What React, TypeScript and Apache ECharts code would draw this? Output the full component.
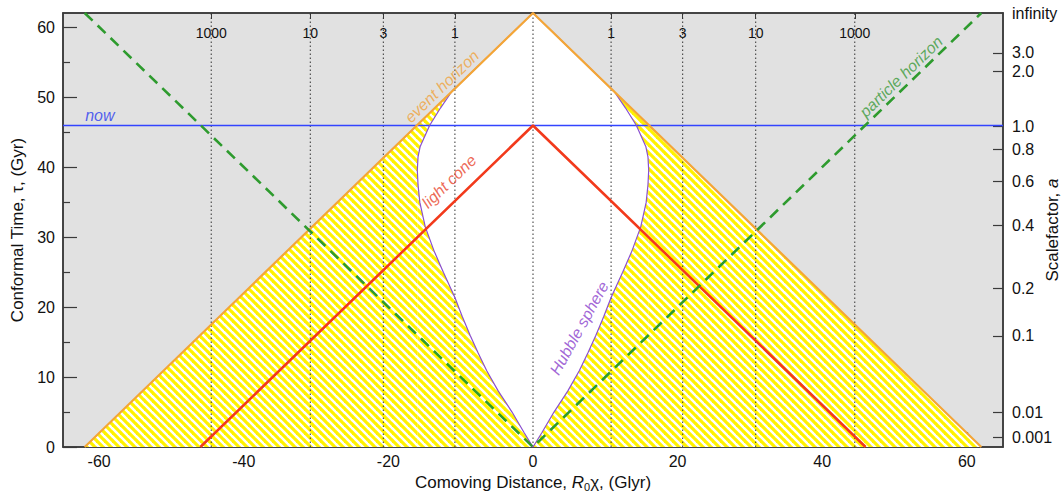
import { useEffect, useRef } from 'react';
import * as echarts from 'echarts';

// ---- data ----
const distMajor = [-60, -40, -20, 0, 20, 40, 60];
const distMinor = [-50, -30, -10, 10, 30, 50];
const tauMajor = [0, 10, 20, 30, 40, 50, 60];
const tauMinor = [5, 15, 25, 35, 45, 55];
const redshiftLabels = ['1000', '10', '3', '1', '0', '1', '3', '10', '1000'];
const redshiftPos = [-44.5, -30.8, -20.7, -10.8, 0, 10.8, 20.7, 30.8, 44.5];
const scaleLabels = ['0.001', '0.01', '0.1', '0.2', '0.4', '0.6', '0.8', '1.0', '2.0', '3.0', 'infinity'];
const scaleTau = [1.33, 5.0, 15.9, 22.7, 31.7, 38.0, 42.6, 45.9, 53.7, 56.4, 62.1];

const eventHorizon = [[-62, 0], [0, 62.1], [62, 0]];
const lightCone = [[-46, 0], [0, 46], [46, 0]];
const particleHorizon = [[-62, 62.1], [0, 0], [62, 62.1]];
const nowTau = 46;
// Hubble sphere (right half; left half mirrored)
const hubbleTau = [0, 2, 5, 8, 10.9, 13.5, 16, 18.7, 21.4, 25, 28.1, 31.5, 35, 37.5, 39.6, 41.5, 43, 46, 48.5, 50.9, 62.1];
const hubbleDist = [0, 1.2, 2.9, 4.8, 6.4, 7.6, 8.7, 9.8, 10.8, 12.4, 13.7, 14.9, 15.65, 15.9, 16.0, 15.9, 15.6, 14.3, 12.8, 11.2, 0];
const hubbleWidest = 14;

const textLabels = [
  { text: 'now', x: -59.9, t: 47.5, rot: 0, color: '#2b3cf0' },
  { text: 'event horizon', x: -12.6, t: 51.6, rot: 44, color: '#f0a23c' },
  { text: 'light cone', x: -11.6, t: 38.0, rot: 44, color: '#e8432a' },
  { text: 'Hubble sphere', x: 6.4, t: 17.0, rot: 61, color: '#8a3fcc' },
  { text: 'particle horizon', x: 50.9, t: 53.0, rot: 44, color: '#3a9a3a' },
];

const FONT = '"Liberation Sans", Arial, Helvetica, sans-serif';
const X_MIN = -65;
const X_MAX = 65;
const Y_MAX = 62.1;
const HATCH = 8;

function makeHatch(): HTMLCanvasElement {
  const s = HATCH;
  const c = document.createElement('canvas');
  c.width = s;
  c.height = s;
  const ctx = c.getContext('2d')!;
  ctx.fillStyle = '#ffffff';
  ctx.fillRect(0, 0, s, s);
  ctx.strokeStyle = '#fff200';
  ctx.lineWidth = 3.2;
  for (const k of [-1, 0, 1]) {
    ctx.beginPath();
    ctx.moveTo(k * s - 1, -1);
    ctx.lineTo(k * s + s + 1, s + 1);
    ctx.stroke();
  }
  return c;
}

export default function App() {
  const ref = useRef<HTMLDivElement>(null);
  useEffect(() => {
    if (!ref.current) return;
    const chart = echarts.init(ref.current, undefined, { renderer: 'svg' });
    const hatchCanvas = makeHatch();
    const hatch: any = { image: hatchCanvas, repeat: 'repeat', imageWidth: HATCH, imageHeight: HATCH };

    const n = hubbleTau.length;
    const outline: number[][] = [];
    for (let i = n - 1; i >= 0; i--) outline.push([-hubbleDist[i], hubbleTau[i]]);
    for (let i = 1; i < n; i++) outline.push([hubbleDist[i], hubbleTau[i]]);
    const upper: number[][] = [];
    for (let i = hubbleWidest; i < n; i++) upper.push([-hubbleDist[i], hubbleTau[i]]);
    for (let i = n - 2; i >= hubbleWidest; i--) upper.push([hubbleDist[i], hubbleTau[i]]);
    const lower: number[][] = [];
    for (let i = hubbleWidest; i >= 0; i--) lower.push([-hubbleDist[i], hubbleTau[i]]);
    for (let i = 1; i <= hubbleWidest; i++) lower.push([hubbleDist[i], hubbleTau[i]]);

    const base = { type: 'line', showSymbol: false, symbol: 'none', silent: true, xAxisIndex: 0, yAxisIndex: 0 };

    const dotted = redshiftPos.map((p) => ({
      ...base,
      data: [[p, 0], [p, Y_MAX]],
      lineStyle: { color: '#333', width: 1, type: [1.5, 2.5] },
    }));

    const axisLineStyle = { color: '#3a3a3a', width: 1.5 };

    chart.setOption({
      animation: false,
      grid: {
        left: 63, right: 60, top: 13, bottom: 52, containLabel: false, outerBoundsMode: 'none',
        show: true, backgroundColor: '#e1e1e1', borderColor: '#3a3a3a', borderWidth: 1.5,
      },
      xAxis: [
        {
          type: 'value', min: X_MIN, max: X_MAX, position: 'bottom',
          axisLine: { show: true, onZero: false, lineStyle: axisLineStyle },
          axisTick: { show: true, inside: true, length: 15, customValues: distMajor, lineStyle: { color: '#3a3a3a', width: 1.2 } },
          axisLabel: { customValues: distMajor, color: '#111', fontSize: 16, fontFamily: FONT, margin: 6 },
          splitLine: { show: false },
          name: 'Comoving Distance, {i|R}{s|0}χ, (Glyr)',
          nameLocation: 'middle', nameGap: 26, nameMoveOverlap: false,
          nameTextStyle: {
            color: '#111', fontSize: 17, fontFamily: FONT,
            rich: {
              i: { fontStyle: 'italic', fontSize: 17, fontFamily: FONT, color: '#111' },
              s: { fontSize: 11, fontFamily: FONT, color: '#111', verticalAlign: 'bottom', padding: [8, 0, 0, 0] },
            },
          },
        },
        {
          type: 'value', min: X_MIN, max: X_MAX, position: 'bottom',
          axisLine: { show: false, onZero: false },
          axisTick: { show: true, inside: true, length: 8, customValues: distMinor, lineStyle: { color: '#3a3a3a', width: 1.2 } },
          axisLabel: { show: false },
          splitLine: { show: false },
        },
        {
          type: 'value', min: X_MIN, max: X_MAX, position: 'top',
          axisLine: { show: true, onZero: false, lineStyle: axisLineStyle },
          axisTick: { show: true, inside: true, length: 6, customValues: redshiftPos, lineStyle: { color: '#3a3a3a' } },
          axisLabel: {
            inside: true, customValues: redshiftPos, color: '#111', fontSize: 14, fontFamily: FONT, margin: 13,
            formatter: (v: number) => {
              const i = redshiftPos.findIndex((p) => Math.abs(p - v) < 0.01);
              return i >= 0 ? redshiftLabels[i] : '';
            },
          },
          splitLine: { show: false },
        },
      ],
      yAxis: [
        {
          type: 'value', min: 0, max: Y_MAX, position: 'left',
          axisLine: { show: true, onZero: false, lineStyle: axisLineStyle },
          axisTick: { show: true, inside: true, length: 14, customValues: tauMajor, lineStyle: { color: '#3a3a3a', width: 1.2 } },
          axisLabel: { customValues: tauMajor, color: '#111', fontSize: 16, fontFamily: FONT, margin: 8 },
          splitLine: { show: false },
          name: 'Conformal Time, τ, (Gyr)', nameLocation: 'middle', nameGap: 37, nameRotate: 90, nameMoveOverlap: false,
          nameTextStyle: { color: '#111', fontSize: 17, fontFamily: FONT },
        },
        {
          type: 'value', min: 0, max: Y_MAX, position: 'left',
          axisLine: { show: false, onZero: false },
          axisTick: { show: true, inside: true, length: 7, customValues: tauMinor, lineStyle: { color: '#3a3a3a', width: 1.2 } },
          axisLabel: { show: false },
          splitLine: { show: false },
        },
        {
          type: 'value', min: 0, max: Y_MAX, position: 'right',
          axisLine: { show: true, onZero: false, lineStyle: axisLineStyle },
          axisTick: { show: true, inside: true, length: 10, customValues: scaleTau.slice(0, scaleTau.length - 1), lineStyle: { color: '#3a3a3a', width: 1.2 } },
          axisLabel: {
            customValues: scaleTau, color: '#111', fontSize: 16, fontFamily: FONT, margin: 9,
            formatter: (v: number) => {
              const i = scaleTau.findIndex((p) => Math.abs(p - v) < 0.01);
              return i >= 0 ? scaleLabels[i] : '';
            },
          },
          splitLine: { show: false },
          name: 'Scalefactor, {i|a}', nameLocation: 'middle', nameGap: 41, nameRotate: 90, nameMoveOverlap: false,
          nameTextStyle: {
            color: '#111', fontSize: 17, fontFamily: FONT,
            rich: { i: { fontStyle: 'italic', fontSize: 17, fontFamily: FONT, color: '#111' } },
          },
        },
      ],
      series: [
        { ...base, name: 'horizonFill', data: eventHorizon, lineStyle: { width: 0 }, areaStyle: { color: hatch, opacity: 1 } },
        { ...base, name: 'sphereWhite', data: upper, lineStyle: { width: 0 }, areaStyle: { color: '#ffffff', opacity: 1 } },
        { ...base, name: 'sphereLowerHatch', data: lower, lineStyle: { width: 0 }, areaStyle: { color: hatch, opacity: 1 } },
        ...dotted,
        { ...base, name: 'now', data: [[X_MIN, nowTau], [X_MAX, nowTau]], lineStyle: { color: '#3344ff', width: 1.3 } },
        { ...base, name: 'hubble', data: outline, lineStyle: { color: '#8a4fd0', width: 1.2 } },
        { ...base, name: 'eventHorizon', data: eventHorizon, lineStyle: { color: '#f4a636', width: 2.2 } },
        { ...base, name: 'lightCone', data: lightCone, lineStyle: { color: '#f23a1c', width: 2.6 } },
        { ...base, name: 'particleHorizon', data: particleHorizon, lineStyle: { color: '#2e9b2e', width: 2.6, type: [11, 7] } },
        {
          type: 'scatter', silent: true, xAxisIndex: 0, yAxisIndex: 0, symbolSize: 1, z: 20,
          itemStyle: { color: 'rgba(0,0,0,0)' },
          data: textLabels.map((l) => ({
            value: [l.x, l.t],
            label: {
              show: true, position: 'inside', formatter: l.text, rotate: l.rot, color: l.color,
              fontSize: 16, fontStyle: 'italic', fontFamily: FONT, align: 'center', verticalAlign: 'middle',
            },
          })),
        },
      ],
    });
    return () => chart.dispose();
  }, []);
  return <div ref={ref} style={{ position: 'absolute', left: 0, top: 0, width: 1063, height: 499 }} />;
}
